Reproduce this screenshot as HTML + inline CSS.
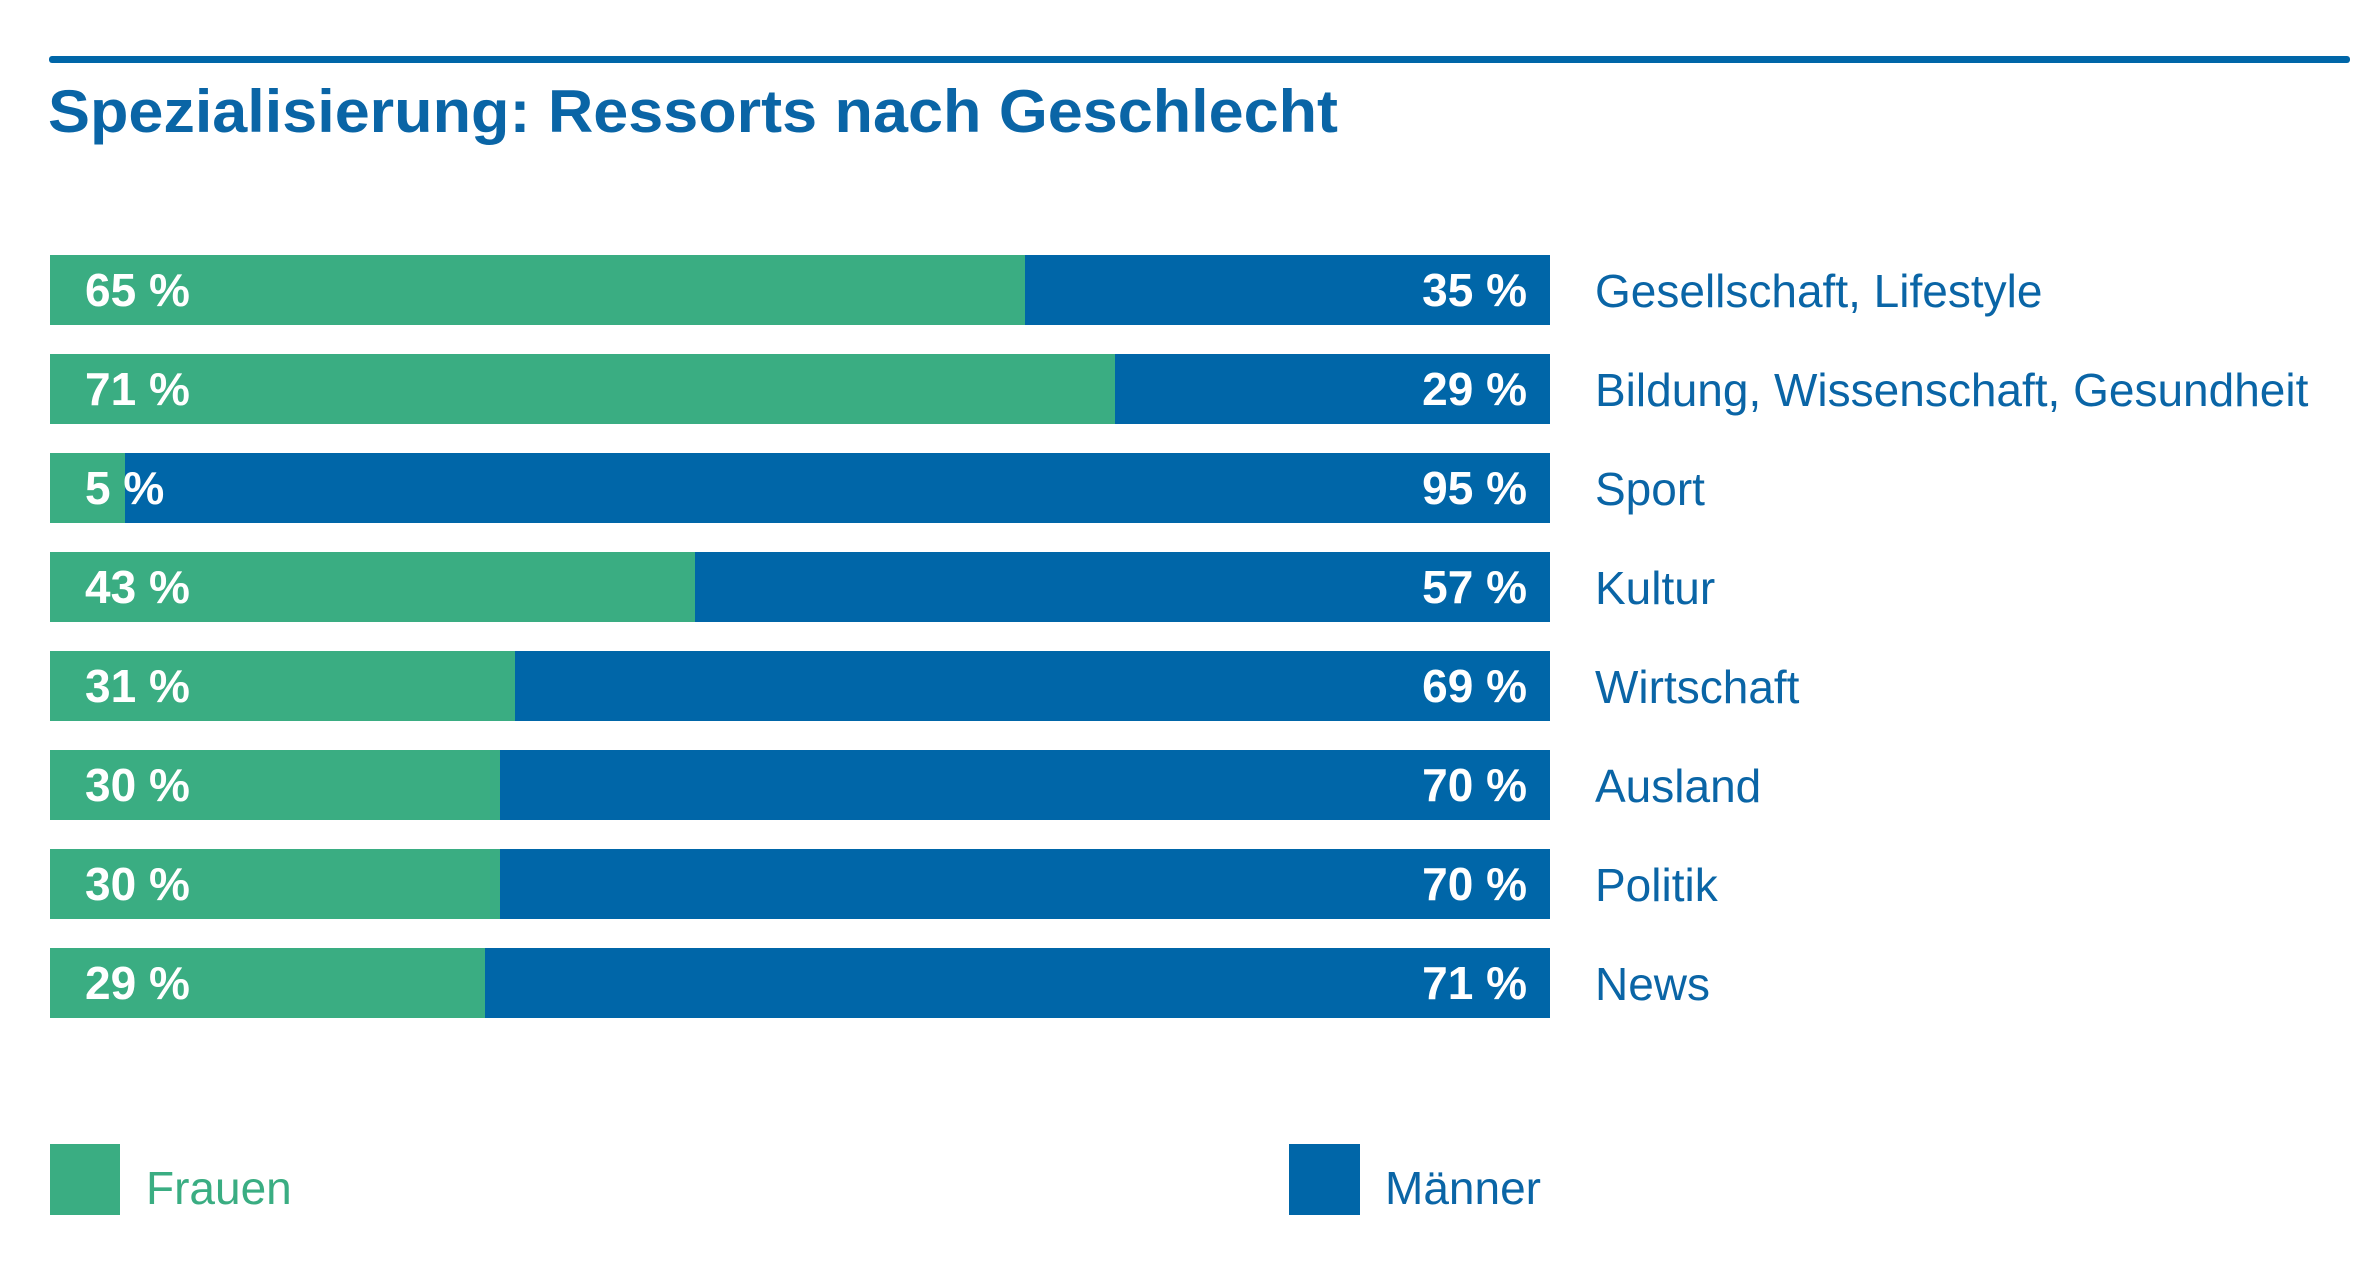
<!DOCTYPE html>
<html><head><meta charset="utf-8"><style>
html,body{margin:0;padding:0;background:#fff;}
svg{display:block;font-family:"Liberation Sans",Arial,sans-serif;}
</style></head><body>
<svg id="chart" width="2375" height="1276" viewBox="0 0 2375 1276" xmlns="http://www.w3.org/2000/svg">
<rect x="49" y="56" width="2301" height="7" rx="3" fill="#0066a8"/>
<text x="48" y="132" font-size="60" font-weight="bold" fill="#0a65a6" textLength="1290" lengthAdjust="spacingAndGlyphs">Spezialisierung: Ressorts nach Geschlecht</text>
<g id="bars"></g>
<rect x="50" y="1144" width="70" height="71" fill="#3aad82"/>
<text x="146" y="1204" font-size="46" fill="#3aad82">Frauen</text>
<rect x="1289" y="1144" width="71" height="71" fill="#0066a8"/>
<text x="1385" y="1204" font-size="46" fill="#0a65a6">Männer</text>
</svg>
<script>
const categories = ["Gesellschaft, Lifestyle","Bildung, Wissenschaft, Gesundheit","Sport","Kultur","Wirtschaft","Ausland","Politik","News"];
const women = [65,71,5,43,31,30,30,29];
const men = [35,29,95,57,69,70,70,71];

const NS="http://www.w3.org/2000/svg";
const g=document.getElementById('bars');
const x0=50, plotW=1500, y0=255, pitch=99, barH=70;
const xScale=v=>plotW*v/100;
function mk(tag,attrs){const e=document.createElementNS(NS,tag);for(const k in attrs)e.setAttribute(k,attrs[k]);return e;}
categories.forEach((c,i)=>{
  const y=y0+i*pitch;
  const total=women[i]+men[i];
  const wW=xScale(women[i]*100/total);
  const r1=mk('rect',{x:x0,y:y,width:wW,height:barH,fill:'#3aad82'});
  
  
  g.appendChild(r1);
  const r2=mk('rect',{x:x0+wW,y:y,width:plotW-wW,height:barH,fill:'#0066a8'});
  
  
  g.appendChild(r2);
  const t1=mk('text',{x:85,y:y+barH/2+16,'font-size':46,'font-weight':'bold',fill:'#fff'});
  t1.textContent=women[i]+' %';
  
  
  g.appendChild(t1);
  const t2=mk('text',{x:1527,y:y+barH/2+16,'font-size':46,'font-weight':'bold',fill:'#fff','text-anchor':'end'});
  t2.textContent=men[i]+' %';
  
  
  g.appendChild(t2);
  const t3=mk('text',{x:1595,y:y+barH/2+17,'font-size':46,fill:'#0a65a6'});
  t3.textContent=c;
  
  
  g.appendChild(t3);
});
</script>
</body></html>
